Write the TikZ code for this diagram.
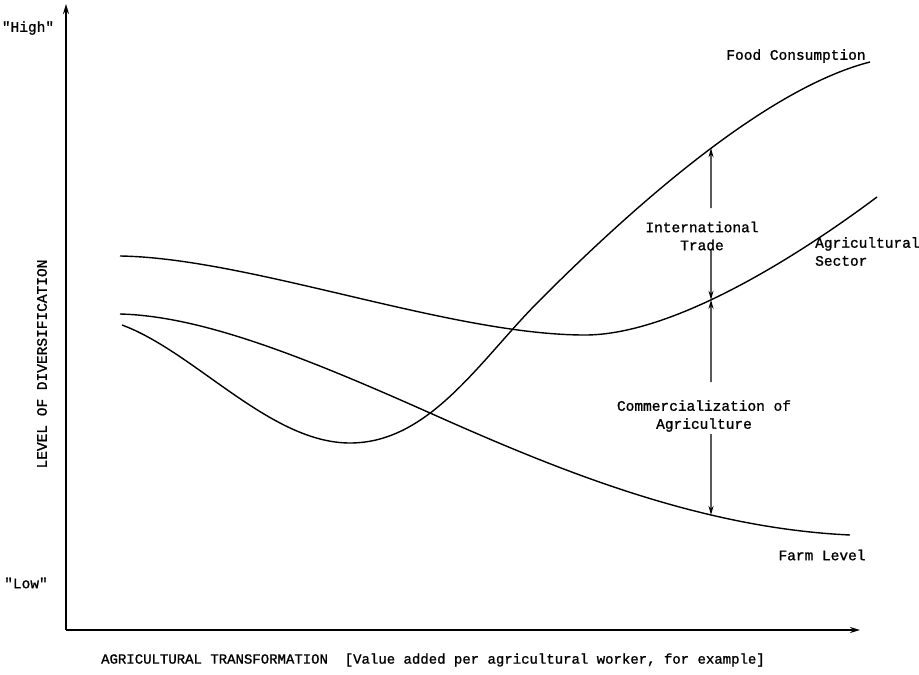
\documentclass[tikz,border=0pt]{standalone}
\usepackage{fontspec}
\setmainfont{Liberation Mono}[FakeBold=1.2]
\usetikzlibrary{arrows.meta,intersections}
\begin{document}
\begin{tikzpicture}[x=1pt,y=-1pt,
  lbl/.style={inner sep=0pt,font=\fontsize{14.5}{18}\selectfont},
  curve/.style={line width=1.4pt},
  axis/.style={line width=1.8pt,-{Stealth[length=10pt,width=6pt]}},
  arr/.style={line width=1.2pt,-{Stealth[length=9pt,width=5pt]}}]
\useasboundingbox (0,0) rectangle (919,675);
% axes
\coordinate (O) at (66,630);
\coordinate (ytop) at (66,4);
\coordinate (xend) at (860,630);
\draw[axis] (O) -- (ytop);
\draw[axis] (O) -- (xend);
% axis labels
\node[lbl] (high) at (28,28) {\textquotedbl High\textquotedbl};
\node[lbl] (low) at (26,583) {\textquotedbl Low\textquotedbl};
\node[lbl,rotate=90] (ylab) at (42,364) {LEVEL OF DIVERSIFICATION};
\node[lbl,font=\fontsize{14}{17}\selectfont] (xlab) at (433,660) {AGRICULTURAL TRANSFORMATION\ \ [Value added per agricultural worker, for example]};
% curves
\draw[curve,name path=food] (122,325) .. controls (195,352) and (270,443) .. (350,443)
  .. controls (430,443) and (480,360) .. (540,300)
  .. controls (620,220) and (760,90) .. (870,62);
\draw[curve,name path=agri] (120,256) .. controls (250,258) and (450,335) .. (585,335)
  .. controls (670,335) and (790,262) .. (877,197);
\draw[curve,name path=farm] (120,314) .. controls (200,316) and (300,355) .. (430,413)
  .. controls (560,471) and (700,528) .. (850,535);
\path[name path=vline] (711,0) -- (711,675);
\path[name intersections={of=food and vline,by=fc}];
\path[name intersections={of=agri and vline,by=as}];
\path[name intersections={of=farm and vline,by=fl}];
% curve labels
\node[lbl] (food) at (796,56) {Food Consumption};
\node[lbl,align=left,anchor=north west] (agrilab) at (815,237) {Agricultural\\Sector};
\node[lbl] (farmlab) at (822,555) {Farm Level};
% arrow labels
\node[lbl,align=center] (trade) at (702,236) {International\\Trade};
\node[lbl,align=center] (comm) at (704,416) {Commercialization of\\Agriculture};
% arrows
\coordinate (t1) at (711,208);
\coordinate (t2) at (711,250);
\coordinate (c1) at (711,382);
\coordinate (c2) at (711,434);
\draw[arr] (t1) -- (fc);
\draw[arr] (t2) -- (as);
\draw[arr] (c1) -- (as);
\draw[arr] (c2) -- (fl);
\end{tikzpicture}
\end{document}
